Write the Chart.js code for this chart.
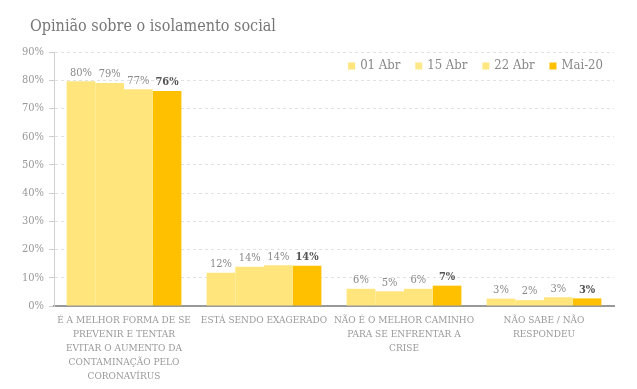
<!DOCTYPE html>
<html>
<head>
<meta charset="utf-8">
<script src="https://cdn.jsdelivr.net/npm/chart.js@4/dist/chart.umd.min.js"></script>
<style>
html,body{margin:0;padding:0;background:#fff;}
#wrap{width:637px;height:389px;position:relative;}
</style>
</head>
<body>
<div id="wrap"><canvas id="c" width="637" height="389"></canvas></div>
<script>
const categories = [
  ["É A MELHOR FORMA DE SE","PREVENIR E TENTAR","EVITAR O AUMENTO DA","CONTAMINAÇÃO PELO","CORONAVÍRUS"],
  ["ESTÁ SENDO EXAGERADO"],
  ["NÃO É O MELHOR CAMINHO","PARA SE ENFRENTAR A","CRISE"],
  ["NÃO SABE / NÃO","RESPONDEU"]
];
const seriesNames = ["01 Abr","15 Abr","22 Abr","Mai-20"];
const abr01 = [79.6, 11.8, 6.1, 2.6];
const abr15 = [79.0, 13.9, 5.2, 2.1];
const abr22 = [76.8, 14.4, 6.1, 3.1];
const mai20 = [76.2, 14.3, 7.2, 2.7];
const yTicks = [0,10,20,30,40,50,60,70,80,90];
const titleText = "Opinião sobre o isolamento social";

const SERIF = "'DejaVu Serif Condensed', 'DejaVu Serif', serif";
const colors = ["#FFE57C","#FFE57C","#FFE57C","#FFC000"];
const legendColors = ["#FFE57C","#FFE88A","#FFE680","#FFC000"];

const titlePlugin = {
  id:'titlePlugin',
  afterDraw(chart){
    const ctx = chart.ctx;
    ctx.save();
    ctx.font = '16px ' + SERIF;
    ctx.fillStyle = '#777';
    ctx.textAlign = 'left';
    ctx.textBaseline = 'middle';
    ctx.fillText(titleText, 30, 27);
    ctx.restore();
  }
};

const legendPlugin = {
  id:'legendPlugin',
  afterDraw(chart){
    const ctx = chart.ctx;
    ctx.save();
    ctx.font = '13px ' + SERIF;
    ctx.textBaseline = 'middle';
    ctx.textAlign = 'left';
    const y = 66, box = 7, gapBT = 5, gapItem = 15;
    let x = 603;
    for (let i = seriesNames.length - 1; i >= 0; i--) {
      const w = ctx.measureText(seriesNames[i]).width;
      const tx = x - w;
      ctx.fillStyle = '#888';
      ctx.fillText(seriesNames[i], tx, y);
      const bx = tx - gapBT - box;
      ctx.fillStyle = legendColors[i];
      ctx.fillRect(bx, y - box/2, box, box);
      x = bx - gapItem;
    }
    ctx.restore();
  }
};

const dataLabels = {
  id:'dataLabels',
  afterDatasetsDraw(chart){
    const ctx = chart.ctx;
    ctx.save();
    ctx.textAlign = 'center';
    ctx.textBaseline = 'bottom';
    chart.data.datasets.forEach((ds, di) => {
      const meta = chart.getDatasetMeta(di);
      const last = di === chart.data.datasets.length - 1;
      ctx.font = (last ? 'bold ' : '') + '11px ' + SERIF;
      ctx.fillStyle = last ? '#555' : '#8a8a8a';
      meta.data.forEach((bar, i) => {
        ctx.fillText(Math.round(ds.data[i]) + '%', bar.x, bar.y - 3);
      });
    });
    ctx.restore();
  }
};

new Chart(document.getElementById('c'), {
  type:'bar',
  data:{
    labels: categories,
    datasets: seriesNames.map((n, i) => ({
      label:n,
      data:[abr01, abr15, abr22, mai20][i],
      backgroundColor: colors[i],
      borderWidth:0,
      categoryPercentage:0.82,
      barPercentage:1.0
    }))
  },
  options:{
    responsive:false,
    animation:false,
    layout:{padding:{left:0, right:23, top:52, bottom:0}},
    plugins:{
      title:{display:false},
      legend:{display:false},
      tooltip:{enabled:false}
    },
    scales:{
      x:{
        grid:{display:false, drawTicks:false},
        border:{display:true, color:'#999', width:2},
        ticks:{color:'#999', font:{family:SERIF, size:10, lineHeight:1.42}, padding:7, maxRotation:0, autoSkip:false},
        afterFit(s){ s.height = 83; }
      },
      y:{
        min:0, max:90,
        afterBuildTicks(s){ s.ticks = yTicks.map(v => ({value:v})); },
        grid:{color:'#e2e2e2', tickLength:5, tickColor:'#ccc', drawTicks:true},
        border:{display:true, color:'#d0d0d0', width:1, dash:[3,3]},
        ticks:{color:'#999', font:{family:SERIF, size:11}, padding:5, callback:v => v + '%'},
        afterFit(s){ s.width = 54; }
      }
    }
  },
  plugins:[dataLabels, titlePlugin, legendPlugin]
});
</script>
</body>
</html>
